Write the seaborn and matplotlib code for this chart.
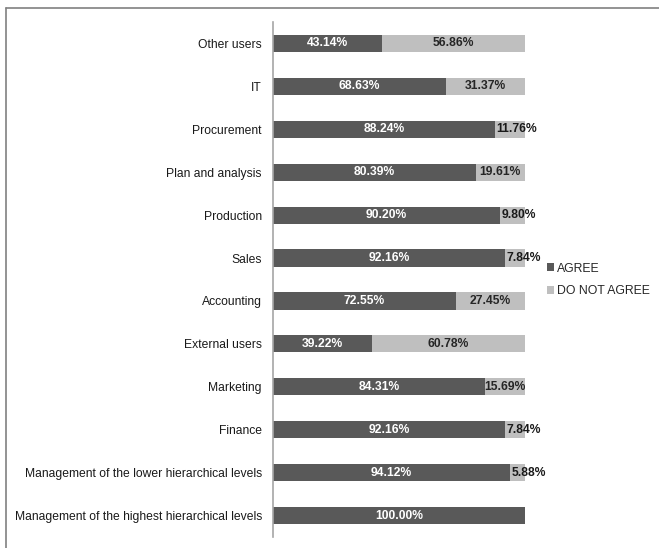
import matplotlib
matplotlib.use("Agg")
import matplotlib.pyplot as plt
import seaborn as sns
import pandas as pd
import numpy as np
from matplotlib.lines import Line2D
from matplotlib.patches import Patch

categories = [
    "Other users", "IT", "Procurement", "Plan and analysis", "Production",
    "Sales", "Accounting", "External users", "Marketing", "Finance",
    "Management of the lower hierarchical levels",
    "Management of the highest hierarchical levels",
]
agree = [43.14, 68.63, 88.24, 80.39, 90.20, 92.16, 72.55, 39.22, 84.31, 92.16, 94.12, 100.00]
disagree = [56.86, 31.37, 11.76, 19.61, 9.80, 7.84, 27.45, 60.78, 15.69, 7.84, 5.88, 0.00]
series_names = ["AGREE", "DO NOT AGREE"]

DARK = "#595959"
LIGHT = "#bfbfbf"

sns.set_theme(style="white")
plt.rcParams["font.family"] = ["Liberation Sans", "DejaVu Sans"]

df = pd.DataFrame({"category": categories, "agree": agree, "disagree": disagree})
df["total"] = df["agree"] + df["disagree"]

W, H = 659, 548
fig = plt.figure(figsize=(W / 100, H / 100), dpi=100)
ax = fig.add_axes([273 / W, 1 - 537 / H, (525 - 273) / W, (537 - 22) / H])

sns.barplot(data=df, y="category", x="total", color=LIGHT, orient="h",
            width=0.4, ax=ax, saturation=1, linewidth=0)
sns.barplot(data=df, y="category", x="agree", color=DARK, orient="h",
            width=0.4, ax=ax, saturation=1, linewidth=0)

ax.set_xlim(0, 100)
ax.set_ylim(len(categories) - 0.5, -0.5)
ax.set_xlabel("")
ax.set_ylabel("")
ax.set_xticks([])
ax.tick_params(axis="y", length=0, pad=8, labelsize=8.75, labelcolor="#1a1a1a")
for s in ["top", "right", "bottom"]:
    ax.spines[s].set_visible(False)
ax.spines["left"].set_color("#a6a6a6")
ax.spines["left"].set_linewidth(1.2)

for i, (a, d) in enumerate(zip(agree, disagree)):
    if a > 0:
        ax.text(a / 2, i, f"{a:.2f}%", ha="center", va="center", color="white",
                fontsize=8.7, fontweight="bold")
    if d > 0:
        if d < 13:
            ax.text(a + 0.4, i, f"{d:.2f}%", ha="left", va="center", color="#1a1a1a",
                    fontsize=8.7, fontweight="bold", clip_on=False)
        else:
            ax.text(a + d / 2, i, f"{d:.2f}%", ha="center", va="center", color="#262626",
                    fontsize=8.7, fontweight="bold")

handles = [Patch(facecolor=DARK, edgecolor="none"), Patch(facecolor=LIGHT, edgecolor="none")]
fig.legend(handles, series_names, loc="center left",
           bbox_to_anchor=(542 / W, 1 - 280 / H), frameon=False,
           handlelength=0.55, handleheight=0.55, handletextpad=0.3,
           labelspacing=0.9, fontsize=8.8, borderaxespad=0)

# figure border (top and left)
fig.add_artist(Line2D([6 / W, 1], [1 - 8 / H, 1 - 8 / H], transform=fig.transFigure,
                      color="#808080", linewidth=1.2))
fig.add_artist(Line2D([6 / W, 6 / W], [0, 1 - 8 / H], transform=fig.transFigure,
                      color="#808080", linewidth=1.2))

fig.savefig("out.png", dpi=100)
